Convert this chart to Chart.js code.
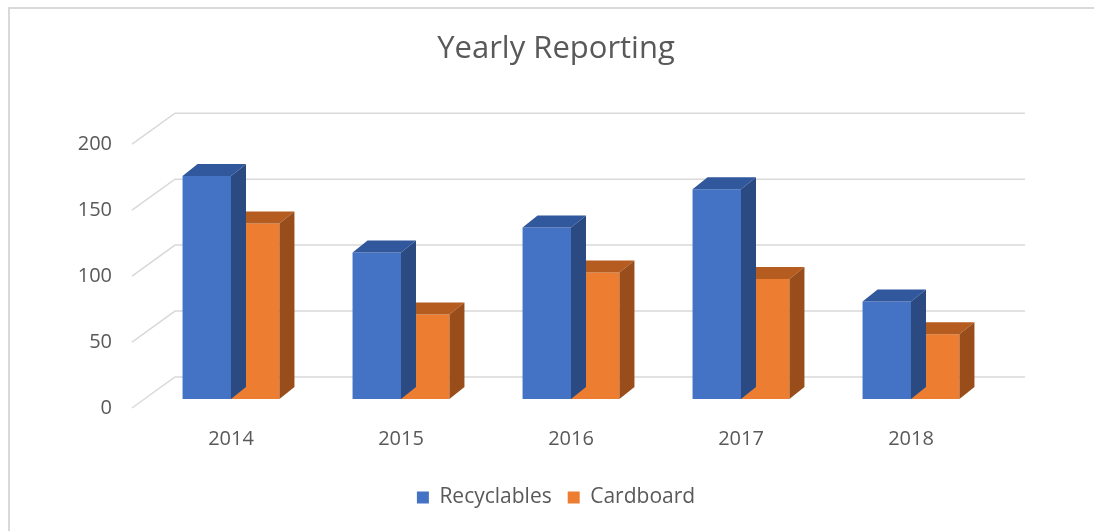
<!DOCTYPE html>
<html>
<head>
<meta charset="utf-8">
<script src="https://cdn.jsdelivr.net/npm/chart.js@4"></script>
<style>
  html, body { margin: 0; padding: 0; background: #fff; }
  #wrap { position: relative; width: 1094px; height: 531px; }
  #frame { position: absolute; left: 8px; top: 7px; right: 0; bottom: 0;
           border-top: 2px solid #d9d9d9; border-left: 2px solid #d9d9d9; }
  canvas { position: absolute; left: 0; top: 0; }
</style>
</head>
<body>
<div id="wrap">
  <div id="frame"></div>
  <canvas id="chart" width="1094" height="531"></canvas>
</div>
<script>
const years = ["2014", "2015", "2016", "2017", "2018"];
const recyclables = [169, 111, 130, 159, 74];
const cardboard = [133, 64, 96, 91, 49];
const yTicks = [0, 50, 100, 150, 200];

// depth of the fake 3D box, in pixels
const DX = 15, DY = -12;
// wall offsets relative to the bar plane
const BACK = { x: 29, y: -22 };
const FRONT = { x: -14, y: 9 };

const threeD = {
  id: "threeD",
  beforeDatasetsDraw(chart) {
    const { ctx, chartArea } = chart;
    const y = chart.scales.y;
    ctx.save();
    ctx.strokeStyle = "#d9d9d9";
    ctx.lineWidth = 1.5;
    y.ticks.forEach((t) => {
      const py = y.getPixelForValue(t.value);
      ctx.beginPath();
      ctx.moveTo(chartArea.left + FRONT.x, py + FRONT.y);
      ctx.lineTo(chartArea.left + BACK.x, py + BACK.y);
      ctx.lineTo(chartArea.right + BACK.x, py + BACK.y);
      ctx.stroke();
    });
    ctx.restore();
  },
  afterDatasetDraw(chart, args) {
    const { ctx } = chart;
    const ds = chart.data.datasets[args.index];
    ctx.save();
    args.meta.data.forEach((bar) => {
      const l = bar.x - bar.width / 2;
      const r = bar.x + bar.width / 2;
      const top = bar.y;
      const base = bar.base;
      // top face
      ctx.fillStyle = ds.topColor;
      ctx.beginPath();
      ctx.moveTo(l, top);
      ctx.lineTo(r, top);
      ctx.lineTo(r + DX, top + DY);
      ctx.lineTo(l + DX, top + DY);
      ctx.closePath();
      ctx.fill();
      // side face
      ctx.fillStyle = ds.sideColor;
      ctx.beginPath();
      ctx.moveTo(r, top);
      ctx.lineTo(r + DX, top + DY);
      ctx.lineTo(r + DX, base + DY);
      ctx.lineTo(r, base);
      ctx.closePath();
      ctx.fill();
    });
    ctx.restore();
  },
};

const font = "'Open Sans', 'Noto Sans', sans-serif";

new Chart(document.getElementById("chart"), {
  type: "bar",
  data: {
    labels: years,
    datasets: [
      {
        label: "Recyclables",
        data: recyclables,
        backgroundColor: "#4472C4",
        topColor: "#31579C",
        sideColor: "#2B4A82",
      },
      {
        label: "Cardboard",
        data: cardboard,
        backgroundColor: "#ED7D31",
        topColor: "#B55C20",
        sideColor: "#984D1B",
      },
    ],
  },
  options: {
    responsive: false,
    animation: false,
    layout: { padding: { left: 18, right: 0, top: 0, bottom: 13 } },
    categoryPercentage: 0.57,
    barPercentage: 1.0,
    plugins: {
      title: {
        display: true,
        text: "Yearly Reporting",
        color: "#595959",
        font: { family: font, size: 31, weight: "normal" },
        padding: { top: 31, bottom: 67 },
      },
      legend: {
        position: "bottom",
        labels: {
          color: "#595959",
          font: { family: font, size: 21 },
          boxWidth: 12,
          boxHeight: 12,
          padding: 16,
        },
      },
      tooltip: { enabled: false },
    },
    scales: {
      x: {
        afterFit: (scale) => { scale.height -= 8; },
        grid: { display: false, drawTicks: false },
        border: { display: false },
        ticks: { color: "#595959", font: { family: font, size: 20 }, padding: 28 },
      },
      y: {
        min: 0,
        max: 200,
        afterFit: (scale) => { scale.width = 128; },
        afterBuildTicks: (scale) => { scale.ticks = yTicks.map((v) => ({ value: v })); },
        grid: { display: false, drawTicks: false },
        border: { display: false },
        ticks: { color: "#595959", font: { family: font, size: 20 }, padding: 34, labelOffset: 9 },
      },
      // empty right-hand axis that only reserves space, so title and legend centre on the frame
      yR: {
        position: "right",
        afterFit: (scale) => { scale.width = 98; },
        grid: { display: false, drawTicks: false },
        border: { display: false },
        ticks: { display: false },
      },
    },
  },
  plugins: [threeD],
});
</script>
</body>
</html>
